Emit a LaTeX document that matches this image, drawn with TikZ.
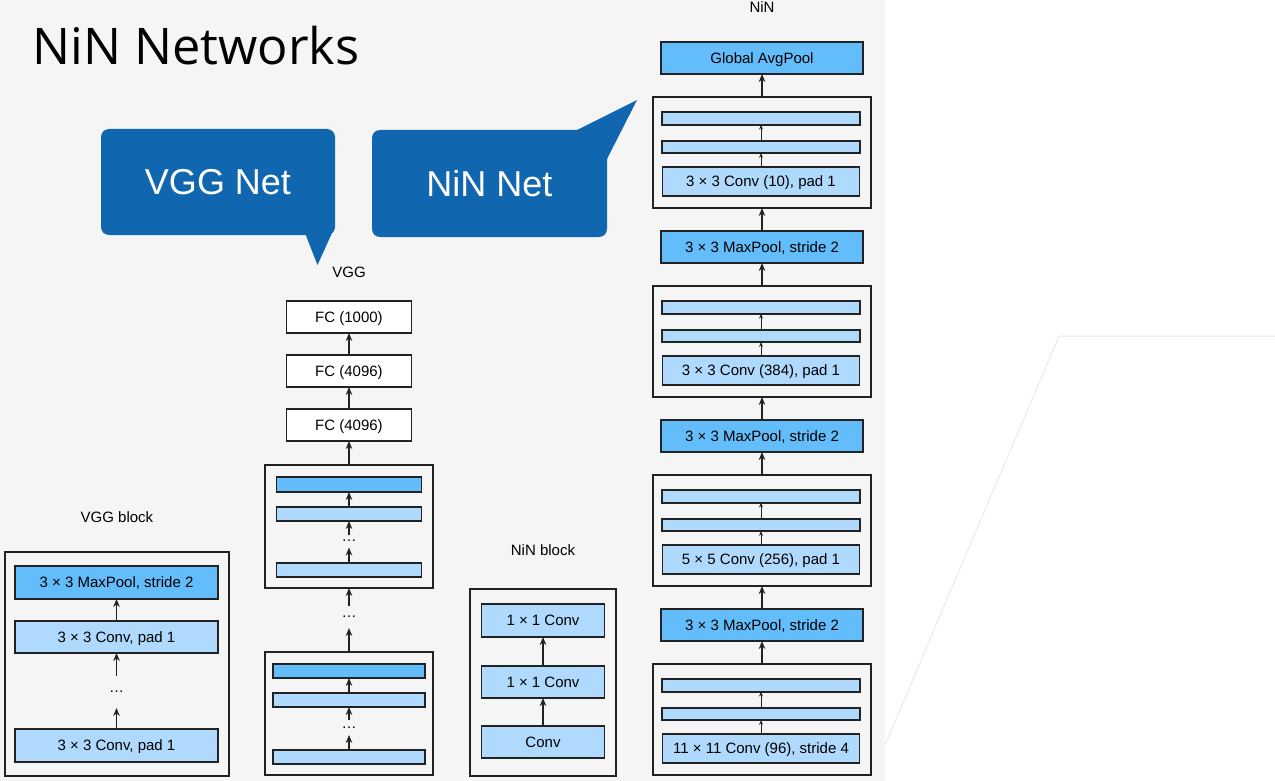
\documentclass[tikz,border=0pt]{standalone}
\usepackage{fontspec}
\setmainfont{Liberation Sans}
\newfontfamily\titlefont{Open Sans}
\usepackage{tikz}
\usetikzlibrary{arrows.meta,positioning}
\definecolor{bgGray}{HTML}{F5F5F5}
\definecolor{poolBlue}{HTML}{63BDFA}
\definecolor{convBlue}{HTML}{AFDAFE}
\definecolor{callBlue}{HTML}{1067B0}
\definecolor{edgeGray}{HTML}{222222}

\begin{document}
\begin{tikzpicture}[
    x=1pt, y=-1pt,
    font=\fontsize{15}{18}\selectfont,
    layer/.style={
        draw=edgeGray,
        line width=1.6pt,
        inner sep=0pt,
        outer sep=0pt,
        text height=10.8pt,
        text depth=0pt,
        align=center
    },
    pool/.style={layer, fill=poolBlue, minimum height=32pt},
    conv/.style={layer, fill=convBlue, minimum height=32pt},
    fc/.style={layer, fill=white, minimum width=125pt, minimum height=32pt},
    slab/.style={layer, fill=convBlue, minimum height=13pt},
    stage/.style={layer, fill=none},
    gapdots/.style={inner sep=0pt, outer sep=0pt},
    tag/.style={inner sep=0pt},
    bubble/.style={
        fill=callBlue,
        rounded corners=8pt,
        text=white,
        inner sep=0pt,
        font=\fontsize{36}{40}\selectfont
    },
    arr/.style={-{Stealth[length=8pt,width=6.5pt]}, line width=1.6pt, draw=edgeGray},
    thinarr/.style={-{Stealth[length=4.5pt,width=4pt]}, line width=0.9pt, draw=edgeGray}
]

% canvas
\fill[white] (0,0) rectangle (1275,781);
\fill[bgGray] (0,0) rectangle (885,781);
\useasboundingbox (0,0) rectangle (1275,781);
\draw[line width=1pt, draw=black!8] (885,745) -- (1059,336) -- (1275,336);

\node[anchor=base west, inner sep=0pt, font=\titlefont\fontsize{50.5}{58}\selectfont] (title) at (32,65) {NiN Networks};

% speech bubbles
\node[bubble, minimum width=234pt, minimum height=106pt] (vggnet) at (218,182) {VGG Net};
\fill[callBlue] (305,233) -- (317.5,265) -- (332,233) -- cycle;
\node[bubble, minimum width=235pt, minimum height=107pt] (ninnet) at (489.5,183.5) {NiN Net};
\fill[callBlue] (575,131) -- (637,100) -- (607,159) -- (600,131) -- cycle;

% VGG block
\node[tag] (vggblocklabel) at (117,517) {VGG block};
\node[stage, minimum width=224pt, minimum height=224pt] (vggblock) at (117,664) {};
\node[pool, minimum width=203pt, minimum height=33pt] (bpool) at (116.5,582.5) {3 × 3 MaxPool, stride 2};
\node[conv, minimum width=203pt] (bconvb) at (116.5,637) {3 × 3 Conv, pad 1};
\node[gapdots, minimum height=32pt] (bdots) at (116.5,692) {\dots};
\node[conv, minimum width=203pt, minimum height=33pt] (bconva) at (116.5,745.5) {3 × 3 Conv, pad 1};

\draw[arr] (bconvb) -- (bpool);
\draw[arr] (bdots) -- (bconvb);
\draw[arr] (bconva) -- (bdots);

% VGG net
\node[tag] (vgglabel) at (349,272) {VGG};
\node[fc] (fcc) at (349,317) {FC (1000)};
\node[fc] (fcb) at (349,371) {FC (4096)};
\node[fc] (fca) at (349,425) {FC (4096)};

\node[stage, minimum width=168pt, minimum height=123pt] (vggtop) at (349,526.5) {};
\node[slab, fill=poolBlue, minimum width=145pt, minimum height=15pt] (tpool) at (349,484.5) {};
\node[slab, minimum width=145pt, minimum height=14pt] (tconvb) at (349,514) {};
\node[gapdots, minimum height=13pt] (tdots) at (349,541) {\dots};
\node[slab, minimum width=145pt, minimum height=14pt] (tconva) at (349,570) {};

\node[gapdots, minimum height=22pt] (mdots) at (349,617) {\dots};

\node[stage, minimum width=168pt, minimum height=123pt] (vggbot) at (349,713.5) {};
\node[slab, fill=poolBlue, minimum width=152pt, minimum height=14pt] (upool) at (349,671) {};
\node[slab, minimum width=152pt, minimum height=14pt] (uconvb) at (349,700) {};
\node[gapdots, minimum height=15pt] (udots) at (349,727.5) {\dots};
\node[slab, minimum width=152pt, minimum height=14pt] (uconva) at (349,757) {};

\draw[arr] (fcb) -- (fcc);
\draw[arr] (fca) -- (fcb);
\draw[arr] (vggtop) -- (fca);
\draw[arr] (tconvb) -- (tpool);
\draw[arr] (tdots) -- (tconvb);
\draw[arr] (tconva) -- (tdots);
\draw[arr] (mdots) -- (vggtop);
\draw[arr] (vggbot) -- (mdots);
\draw[arr] (uconvb) -- (upool);
\draw[arr] (udots) -- (uconvb);
\draw[arr] (uconva) -- (udots);

% NiN block
\node[tag] (ninblocklabel) at (543,550) {NiN block};
\node[stage, minimum width=146pt, minimum height=187pt] (ninblock) at (543,682.5) {};
\node[conv, minimum width=123pt, minimum height=33pt] (nconvc) at (543,620.5) {1 × 1 Conv};
\node[conv, minimum width=123pt] (nconvb) at (543,682) {1 × 1 Conv};
\node[conv, minimum width=123pt] (nconva) at (543,742) {Conv};

\draw[arr] (nconvb) -- (nconvc);
\draw[arr] (nconva) -- (nconvb);

% NiN net
\node[tag] (ninlabel) at (762,7) {NiN};
\node[pool, minimum width=202pt] (gap) at (762,58) {Global AvgPool};

\node[stage, minimum width=218pt, minimum height=111pt] (stagea) at (762,152.5) {};
\node[slab, minimum width=198pt] (stageac) at (761,118.5) {};
\node[slab, minimum width=198pt, minimum height=12.5pt] (stageab) at (761,147) {};
\node[slab, minimum width=197pt, minimum height=29pt] (stageaa) at (761,181.5) {3 × 3 Conv (10), pad 1};

\node[pool, minimum width=202pt] (poola) at (762,247) {3 × 3 MaxPool, stride 2};

\node[stage, minimum width=218pt, minimum height=111pt] (stageb) at (762,341.5) {};
\node[slab, minimum width=198pt] (stagebc) at (761,307.5) {};
\node[slab, minimum width=198pt, minimum height=12.5pt] (stagebb) at (761,336) {};
\node[slab, minimum width=197pt, minimum height=29pt] (stageba) at (761,370.5) {3 × 3 Conv (384), pad 1};

\node[pool, minimum width=202pt] (poolb) at (762,436) {3 × 3 MaxPool, stride 2};

\node[stage, minimum width=218pt, minimum height=111pt] (stagec) at (762,530.5) {};
\node[slab, minimum width=198pt] (stagecc) at (761,496.5) {};
\node[slab, minimum width=198pt, minimum height=12.5pt] (stagecb) at (761,525) {};
\node[slab, minimum width=197pt, minimum height=29pt] (stageca) at (761,559.5) {5 × 5 Conv (256), pad 1};

\node[pool, minimum width=202pt] (poolc) at (762,625) {3 × 3 MaxPool, stride 2};

\node[stage, minimum width=218pt, minimum height=111pt] (staged) at (762,719.5) {};
\node[slab, minimum width=198pt] (stagedc) at (761,685.5) {};
\node[slab, minimum width=198pt, minimum height=12.5pt] (stagedb) at (761,714) {};
\node[slab, minimum width=197pt, minimum height=29pt] (stageda) at (761,748.5) {11 × 11 Conv (96), stride 4};

\draw[arr] (stagea) -- (gap);
\draw[arr] (poola) -- (stagea);
\draw[arr] (stageb) -- (poola);
\draw[arr] (poolb) -- (stageb);
\draw[arr] (stagec) -- (poolb);
\draw[arr] (poolc) -- (stagec);
\draw[arr] (staged) -- (poolc);

\draw[thinarr] (stageab) -- (stageac);
\draw[thinarr] (stageaa) -- (stageab);
\draw[thinarr] (stagebb) -- (stagebc);
\draw[thinarr] (stageba) -- (stagebb);
\draw[thinarr] (stagecb) -- (stagecc);
\draw[thinarr] (stageca) -- (stagecb);
\draw[thinarr] (stagedb) -- (stagedc);
\draw[thinarr] (stageda) -- (stagedb);

\end{tikzpicture}
\end{document}
